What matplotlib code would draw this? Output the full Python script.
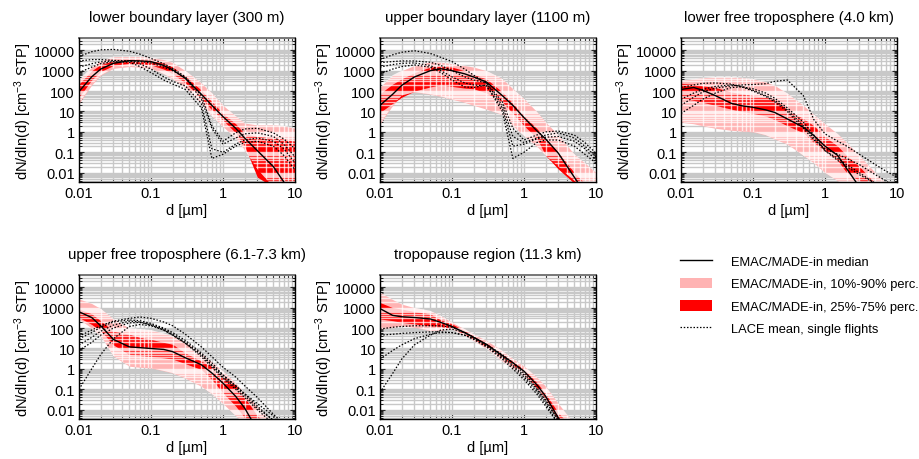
import matplotlib
matplotlib.use("Agg")
import matplotlib.pyplot as plt
from matplotlib.lines import Line2D
from matplotlib.patches import Patch
from matplotlib.ticker import LogLocator, NullFormatter, FixedLocator, FixedFormatter

plt.rcParams['font.family'] = ['Liberation Sans', 'DejaVu Sans']
plt.rcParams['mathtext.fontset'] = 'custom'
plt.rcParams['mathtext.rm'] = 'Liberation Sans'
plt.rcParams['mathtext.it'] = 'Liberation Sans:italic'

# ---------------- data ----------------
diam = [0.01, 0.015, 0.02, 0.03, 0.05, 0.07, 0.1, 0.15, 0.2, 0.3, 0.5, 0.7, 1.0, 1.5, 2.0, 3.0, 5.0, 7.0, 10.0]

titles = ["lower boundary layer (300 m)", "upper boundary layer (1100 m)", "lower free troposphere (4.0 km)",
          "upper free troposphere (6.1-7.3 km)", "tropopause region (11.3 km)"]

# panel 1: lower boundary layer
p1_median = [95, 500, 1200, 2300, 3100, 3000, 2800, 1800, 1100, 420, 70, 20, 5.6, 1.5, 0.5, 0.12, 0.02, 0.0035, 0.0006]
p1_p90 = [350, 1500, 3000, 4900, 5000, 5000, 4500, 3500, 2500, 1000, 250, 80, 20, 6, 2.7, 2.2, 2.2, 2.0, 1.5]
p1_p10 = [25, 200, 600, 1300, 1600, 1500, 1300, 700, 400, 150, 25, 6, 1.8, 0.5, 0.13, 0.015, 0.002, 0.001, 0.001]
p1_p75 = [220, 1000, 2000, 3100, 3500, 3400, 3200, 2300, 1500, 550, 110, 30, 8, 2.5, 0.8, 0.6, 0.5, 0.45, 0.35]
p1_p25 = [50, 350, 900, 1800, 2300, 2200, 1900, 1200, 700, 250, 45, 12, 3.7, 0.9, 0.2, 0.006, 0.002, 0.001, 0.001]
p1_lace = [
    [5000, 8500, 10500, 11000, 9000, 6500, 4000, 2200, 1300, 500, 60, 2.0, 0.35, 0.9, 1.4, 1.5, 0.9, 0.45, 0.15],
    [3000, 3500, 3500, 3200, 3000, 2800, 2400, 1500, 1000, 450, 40, 1.5, 0.25, 0.5, 0.8, 0.9, 0.6, 0.25, 0.06],
    [1500, 2200, 2700, 3000, 3000, 2200, 1200, 500, 300, 180, 25, 0.15, 0.1, 0.25, 0.4, 0.5, 0.35, 0.15, 0.03],
    [800, 1500, 2200, 2800, 2600, 1600, 800, 350, 220, 120, 15, 0.05, 0.08, 0.2, 0.3, 0.35, 0.2, 0.07, 0.014],
]

# panel 2: upper boundary layer
p2_median = [20, 70, 190, 490, 1000, 1250, 1000, 700, 490, 280, 60, 20, 5, 1.15, 0.45, 0.09, 0.006, 0.001, 0.0003]
p2_p90 = [160, 600, 1000, 1800, 2700, 2600, 2200, 1800, 1500, 1000, 400, 130, 42, 10, 3, 0.7, 0.08, 0.03, 0.01]
p2_p10 = [2.5, 20, 60, 90, 70, 55, 40, 28, 20, 13, 7, 2, 0.65, 0.2, 0.07, 0.02, 0.004, 0.002, 0.001]
p2_p75 = [75, 220, 400, 800, 1500, 1600, 1500, 1000, 650, 400, 90, 25, 6, 1.5, 0.45, 0.1, 0.01, 0.003, 0.001]
p2_p25 = [9, 25, 50, 100, 160, 200, 170, 140, 130, 80, 30, 8, 2, 0.5, 0.07, 0.015, 0.003, 0.001, 0.001]
p2_lace = [
    [3500, 6000, 8000, 9500, 7000, 4500, 2800, 1200, 600, 250, 30, 1.5, 0.4, 0.7, 1.0, 1.1, 0.7, 0.3, 0.09],
    [2500, 2800, 3000, 3000, 2600, 1800, 1000, 500, 350, 250, 20, 0.6, 0.3, 0.5, 0.7, 0.9, 0.5, 0.2, 0.06],
    [1500, 2000, 2300, 2400, 1800, 1000, 500, 250, 200, 180, 15, 0.2, 0.25, 0.45, 0.55, 0.6, 0.35, 0.15, 0.04],
    [700, 1200, 1600, 1900, 1500, 800, 350, 160, 150, 200, 10, 0.05, 0.1, 0.3, 0.4, 0.4, 0.2, 0.08, 0.03],
]

# panel 3: lower free troposphere
p3_median = [120, 150, 110, 60, 25, 19, 16, 12, 9, 4.3, 1.7, 0.66, 0.2, 0.07, 0.016, 0.002, 0.0005, 0.0002, 0.0001]
p3_p90 = [330, 400, 450, 500, 500, 450, 400, 280, 190, 77, 20, 7, 2.5, 0.8, 0.3, 0.07, 0.01, 0.003, 0.001]
p3_p10 = [3, 2.5, 2, 1.5, 1.2, 1.1, 1, 0.7, 0.45, 0.25, 0.07, 0.03, 0.01, 0.004, 0.002, 0.001, 0.001, 0.001, 0.001]
p3_p75 = [240, 220, 180, 150, 90, 75, 60, 50, 40, 12, 4.5, 2, 0.6, 0.2, 0.07, 0.02, 0.003, 0.001, 0.001]
p3_p25 = [45, 35, 28, 20, 13, 10, 8, 6, 4, 2, 0.9, 0.3, 0.12, 0.04, 0.01, 0.004, 0.001, 0.001, 0.001]
p3_lace = [
    [20, 50, 90, 140, 180, 200, 210, 230, 300, 350, 60, 4, 0.8, 0.35, 0.2, 0.08, 0.025, 0.012, 0.006],
    [150, 200, 240, 250, 220, 160, 100, 55, 30, 10, 1.5, 0.4, 0.15, 0.08, 0.05, 0.025, 0.008, 0.004, 0.0015],
    [40, 80, 120, 170, 200, 170, 110, 60, 35, 12, 2, 0.5, 0.12, 0.05, 0.025, 0.01, 0.003, 0.0015, 0.0008],
    [8, 20, 40, 80, 150, 160, 130, 80, 45, 15, 3, 0.7, 0.12, 0.04, 0.02, 0.008, 0.003, 0.0015, 0.0008],
]

# panel 4: upper free troposphere
p4_median = [630, 330, 130, 28, 12, 11, 10, 9, 7, 3.5, 1.6, 0.63, 0.2, 0.045, 0.012, 0.001, 0.0002, 0.0001, 0.0001]
p4_p90 = [2700, 1600, 900, 280, 100, 90, 80, 55, 42, 20, 6, 2.2, 0.77, 0.2, 0.066, 0.015, 0.002, 0.001, 0.001]
p4_p10 = [280, 100, 42, 4.3, 1.35, 1.2, 1.1, 0.8, 0.63, 0.35, 0.14, 0.06, 0.02, 0.005, 0.002, 0.001, 0.001, 0.001, 0.001]
p4_p75 = [860, 500, 230, 70, 50, 35, 28, 20, 16, 6, 2.4, 1.3, 0.43, 0.15, 0.04, 0.005, 0.001, 0.001, 0.001]
p4_p25 = [330, 150, 75, 15, 5, 4.5, 4, 3.5, 3, 1.8, 0.93, 0.3, 0.066, 0.015, 0.004, 0.001, 0.001, 0.001, 0.001]
p4_lace = [
    [40, 80, 130, 220, 300, 350, 300, 200, 130, 50, 12, 4, 1.2, 0.4, 0.15, 0.04, 0.006, 0.002, 0.001],
    [30, 60, 110, 200, 250, 230, 170, 100, 60, 25, 6, 2, 0.5, 0.15, 0.06, 0.015, 0.003, 0.001, 0.001],
    [15, 35, 70, 140, 220, 200, 140, 80, 45, 18, 4, 1.2, 0.35, 0.1, 0.04, 0.01, 0.002, 0.001, 0.001],
    [8, 20, 45, 100, 180, 190, 150, 90, 50, 20, 5, 1.5, 0.4, 0.12, 0.05, 0.012, 0.003, 0.001, 0.001],
    [0.1, 1, 5, 30, 120, 150, 130, 80, 45, 18, 5, 1.5, 0.5, 0.15, 0.06, 0.02, 0.005, 0.001, 0.001],
]

# panel 5: tropopause region
p5_median = [900, 420, 360, 330, 280, 190, 120, 60, 35, 16, 4.5, 2, 0.77, 0.17, 0.045, 0.004, 0.0003, 0.0001, 0.0001]
p5_p90 = [5700, 2500, 1500, 1000, 700, 400, 190, 90, 50, 25, 7.7, 3.2, 1.35, 0.4, 0.14, 0.02, 0.002, 0.001, 0.001]
p5_p10 = [90, 110, 130, 110, 75, 80, 90, 45, 24, 10, 2.4, 1.1, 0.44, 0.12, 0.04, 0.004, 0.001, 0.001, 0.001]
p5_p75 = [1800, 1000, 860, 650, 490, 250, 160, 75, 40, 18, 5.5, 2.3, 0.95, 0.22, 0.06, 0.007, 0.001, 0.001, 0.001]
p5_p25 = [280, 230, 190, 160, 130, 120, 97, 50, 30, 13, 3.5, 1.6, 0.6, 0.12, 0.035, 0.003, 0.001, 0.001, 0.001]
p5_lace = [
    [90, 110, 120, 130, 130, 130, 110, 60, 35, 16, 5, 2, 0.6, 0.12, 0.03, 0.003, 0.001, 0.001, 0.001],
    [45, 50, 55, 60, 65, 65, 60, 45, 28, 12, 3, 1, 0.3, 0.06, 0.015, 0.002, 0.001, 0.001, 0.001],
    [3, 8, 15, 30, 50, 60, 60, 45, 30, 13, 3.5, 1.3, 0.4, 0.08, 0.02, 0.002, 0.001, 0.001, 0.001],
    [0.07, 0.6, 3, 15, 45, 80, 90, 60, 35, 15, 4, 1.5, 0.5, 0.1, 0.025, 0.003, 0.001, 0.001, 0.001],
]

panels = [
    (p1_median, p1_p10, p1_p90, p1_p25, p1_p75, p1_lace),
    (p2_median, p2_p10, p2_p90, p2_p25, p2_p75, p2_lace),
    (p3_median, p3_p10, p3_p90, p3_p25, p3_p75, p3_lace),
    (p4_median, p4_p10, p4_p90, p4_p25, p4_p75, p4_lace),
    (p5_median, p5_p10, p5_p90, p5_p25, p5_p75, p5_lace),
]

yticks = [0.01, 0.1, 1, 10, 100, 1000, 10000]
ytick_labels = ["0.01", "0.1", "1", "10", "100", "1000", "10000"]
xticks = [0.01, 0.1, 1, 10]
xtick_labels = ["0.01", "0.1", "1", "10"]

PINK = '#ffb3b3'
RED = '#ff0000'
GRID = '#c8c8c8'

XLIM = (0.01, 10)
YLIM = (0.0035, 40000)

# grid positions (1..9 x 10^e) inside the axis limits
def grid_positions(lo, hi, emin, emax):
    out = []
    for e in range(emin, emax + 1):
        for m in range(1, 10):
            v = m * 10.0 ** e
            if lo < v < hi:
                out.append(v)
    return out

xgrid = grid_positions(XLIM[0], XLIM[1], -2, 1)
ygrid = grid_positions(YLIM[0], YLIM[1], -3, 4)

# ---------------- figure ----------------
fig = plt.figure(figsize=(9.2, 4.6), dpi=100)
W, H = 920.0, 460.0
lefts = [79, 380, 681, 79, 380]
tops = [39, 39, 39, 276, 276]
aw, ah = 216, 144

for i, (med, p10, p90, p25, p75, lace) in enumerate(panels):
    ax = fig.add_axes([lefts[i] / W, 1 - (tops[i] + ah) / H, aw / W, ah / H])
    ax.set_xscale('log')
    ax.set_yscale('log')
    ax.set_xlim(*XLIM)
    ax.set_ylim(*YLIM)
    poly = ax.fill_between(diam, p10, p90, color=PINK, lw=0, zorder=1)
    ax.fill_between(diam, p25, p75, color=RED, lw=0, zorder=1.2)

    # light grid lines showing through the shaded bands
    clip = poly.get_paths()[0]
    for gx in xgrid:
        ln = ax.axvline(gx, color='white', alpha=0.72, lw=1.0, zorder=1.5)
        ln.set_clip_path(clip, ax.transData)
    for gy in ygrid:
        ln = ax.axhline(gy, color='white', alpha=0.72, lw=1.0, zorder=1.5)
        ln.set_clip_path(clip, ax.transData)

    for cur in lace:
        ax.plot(diam, cur, color='black', lw=0.9, ls=(0, (1.2, 1.4)), zorder=3)
    ax.plot(diam, med, color='black', lw=1.0, zorder=3.5)

    ax.set_xlim(*XLIM)
    ax.set_ylim(*YLIM)
    ax.set_axisbelow(True)
    ax.xaxis.set_major_locator(FixedLocator(xticks))
    ax.xaxis.set_major_formatter(FixedFormatter(xtick_labels))
    ax.yaxis.set_major_locator(FixedLocator(yticks))
    ax.yaxis.set_major_formatter(FixedFormatter(ytick_labels))
    ax.xaxis.set_minor_locator(LogLocator(base=10, subs=range(2, 10), numticks=20))
    ax.yaxis.set_minor_locator(LogLocator(base=10, subs=range(2, 10), numticks=20))
    ax.xaxis.set_minor_formatter(NullFormatter())
    ax.yaxis.set_minor_formatter(NullFormatter())
    ax.grid(True, which='both', color=GRID, lw=1.0)
    ax.tick_params(which='both', direction='in', top=True, right=True, labelsize=10.5, pad=3)
    ax.tick_params(which='major', length=3.5, width=0.8)
    ax.tick_params(which='minor', length=2, width=0.6)
    for s in ['left', 'right', 'bottom']:
        ax.spines[s].set_color('black')
        ax.spines[s].set_linewidth(1.0)
        ax.spines[s].set_zorder(4)
    ax.spines['top'].set_color('#777777')
    ax.spines['top'].set_linewidth(1.4)
    ax.set_title(titles[i], fontsize=10.8, pad=12)
    ax.set_xlabel('d [µm]', fontsize=10.5, labelpad=2)
    ax.set_ylabel(r'dN/dln(d) [cm$^{-3}$ STP]', fontsize=10.5, labelpad=0)

handles = [
    Line2D([0], [0], color='black', lw=1.0),
    Patch(facecolor=PINK, edgecolor='none'),
    Patch(facecolor=RED, edgecolor='none'),
    Line2D([0], [0], color='black', lw=0.9, ls=(0, (1.2, 1.4))),
]
labels = ["EMAC/MADE-in median", "EMAC/MADE-in, 10%-90% perc.",
          "EMAC/MADE-in, 25%-75% perc.", "LACE mean, single flights"]
fig.legend(handles, labels, loc='upper left', bbox_to_anchor=(680 / W, 1 - 256 / H),
           frameon=False, fontsize=9.3, handlelength=2.5, handletextpad=1.45,
           labelspacing=0.75, borderpad=0, borderaxespad=0, handleheight=0.9)

fig.savefig('out.png', dpi=100)
